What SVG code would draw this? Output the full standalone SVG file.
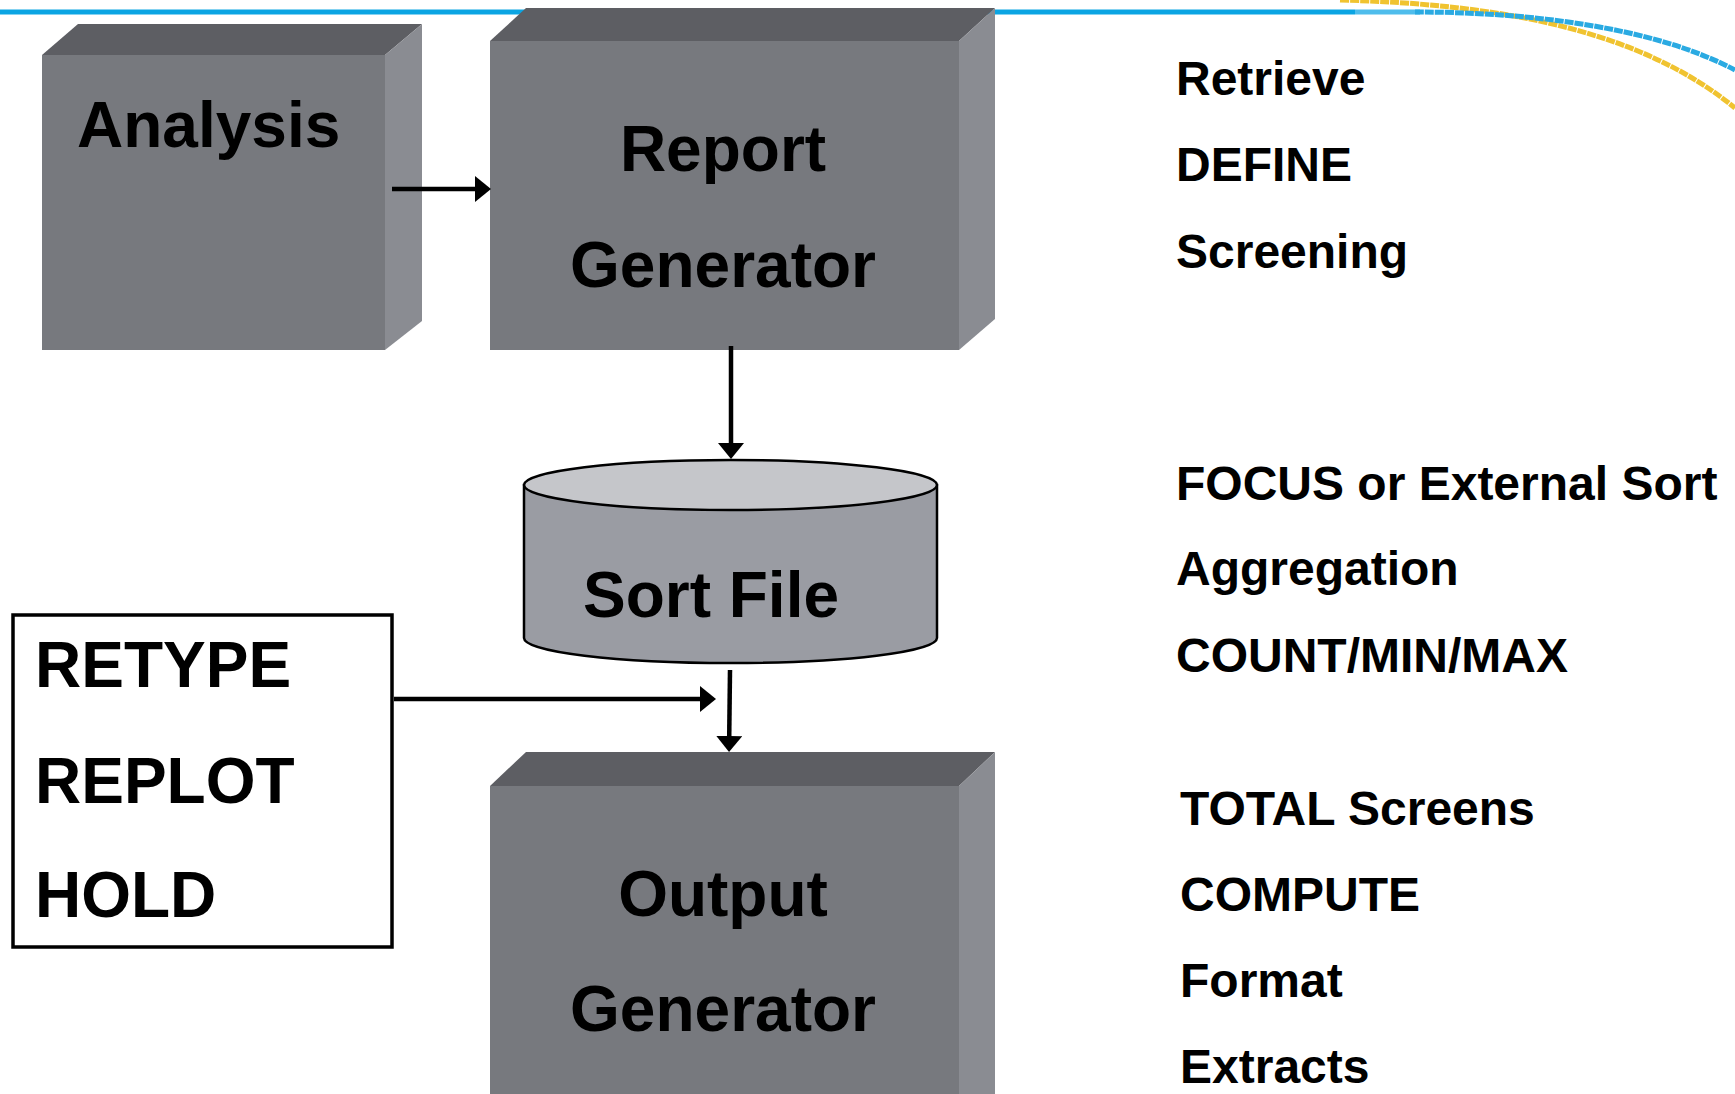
<svg xmlns="http://www.w3.org/2000/svg" width="1735" height="1094" viewBox="0 0 1735 1094">
<defs>
<style>
.front{fill:#77797e}
.top{fill:#5d5e63}
.side{fill:#8a8c92}
.lbl{font-family:"Liberation Sans",Arial,sans-serif;font-weight:bold;fill:#000}
.big{font-size:64px}
.small{font-size:48px}
.conn{stroke:#000;stroke-width:4.5;fill:none}
</style>
<marker id="ah" viewBox="0 0 16 26" refX="2" refY="13" markerWidth="16" markerHeight="26" orient="auto" markerUnits="userSpaceOnUse">
<path d="M0,0 L16,13 L0,26 Z" fill="#000"/>
</marker>
</defs>
<rect width="1735" height="1094" fill="#fff"/>
<g id="decoration">
<path d="M0,12 L1355,12" stroke="#0ba5e3" stroke-width="5" fill="none"/>
<path d="M1355,12 L1420,12" stroke="#4fbdec" stroke-width="5" fill="none"/>
<path d="M1340,0 C1500,4 1640,30 1735,108" stroke="#f0c330" stroke-width="5" fill="none" stroke-dasharray="9 1"/>
<path d="M1415,12 C1520,12 1650,25 1735,70" stroke="#2aaae2" stroke-width="5" fill="none" stroke-dasharray="9 1"/>
</g>
<g id="analysis">
<polygon class="top" points="42,55 78,24 422,24 385,55"/>
<polygon class="side" points="385,55 422,24 422,321 385,350"/>
<rect class="front" x="42" y="55" width="343" height="295"/>
<text class="lbl big" x="77" y="147">Analysis</text>
</g>
<g id="report-generator">
<polygon class="top" points="490,41 526,8 995,8 959,41"/>
<polygon class="side" points="959,41 995,8 995,319 959,350"/>
<rect class="front" x="490" y="41" width="469" height="309"/>
<text class="lbl big" x="723" y="171" text-anchor="middle">Report</text>
<text class="lbl big" x="723" y="287" text-anchor="middle">Generator</text>
</g>
<g id="sort-file">
<path d="M524,485 L524,638 A206,25 0 0 0 937,638 L937,485 Z" fill="#9a9ca3" stroke="#000" stroke-width="2.5"/>
<ellipse cx="730.5" cy="485" rx="206.5" ry="25" fill="#c5c6ca" stroke="#000" stroke-width="2.5"/>
<text class="lbl big" x="711" y="617" text-anchor="middle">Sort File</text>
</g>
<g id="commands-box">
<rect x="13" y="615" width="379" height="332" fill="#fff" stroke="#000" stroke-width="3.5"/>
<text class="lbl big" x="35" y="687">RETYPE</text>
<text class="lbl big" x="35" y="803">REPLOT</text>
<text class="lbl big" x="35" y="917">HOLD</text>
</g>
<g id="output-generator">
<polygon class="top" points="490,786 526,752 995,752 959,786"/>
<polygon class="side" points="959,786 995,752 995,1094 959,1094"/>
<rect class="front" x="490" y="786" width="469" height="308"/>
<text class="lbl big" x="723" y="916" text-anchor="middle">Output</text>
<text class="lbl big" x="723" y="1031" text-anchor="middle">Generator</text>
</g>
<g id="connectors">
<line class="conn" x1="392" y1="189" x2="477" y2="189" marker-end="url(#ah)"/>
<line class="conn" x1="731" y1="346" x2="731" y2="445" marker-end="url(#ah)"/>
<line class="conn" x1="394" y1="699" x2="702" y2="699" marker-end="url(#ah)"/>
<line class="conn" x1="730" y1="670" x2="729.2" y2="738" marker-end="url(#ah)"/>
</g>
<g id="notes">
<text class="lbl small" x="1176" y="95">Retrieve</text>
<text class="lbl small" x="1176" y="181">DEFINE</text>
<text class="lbl small" x="1176" y="268">Screening</text>
<text class="lbl small" x="1176" y="500">FOCUS or External Sort</text>
<text class="lbl small" x="1176" y="585">Aggregation</text>
<text class="lbl small" x="1176" y="672">COUNT/MIN/MAX</text>
<text class="lbl small" x="1180" y="825">TOTAL Screens</text>
<text class="lbl small" x="1180" y="911">COMPUTE</text>
<text class="lbl small" x="1180" y="997">Format</text>
<text class="lbl small" x="1180" y="1083">Extracts</text>
</g>
</svg>
